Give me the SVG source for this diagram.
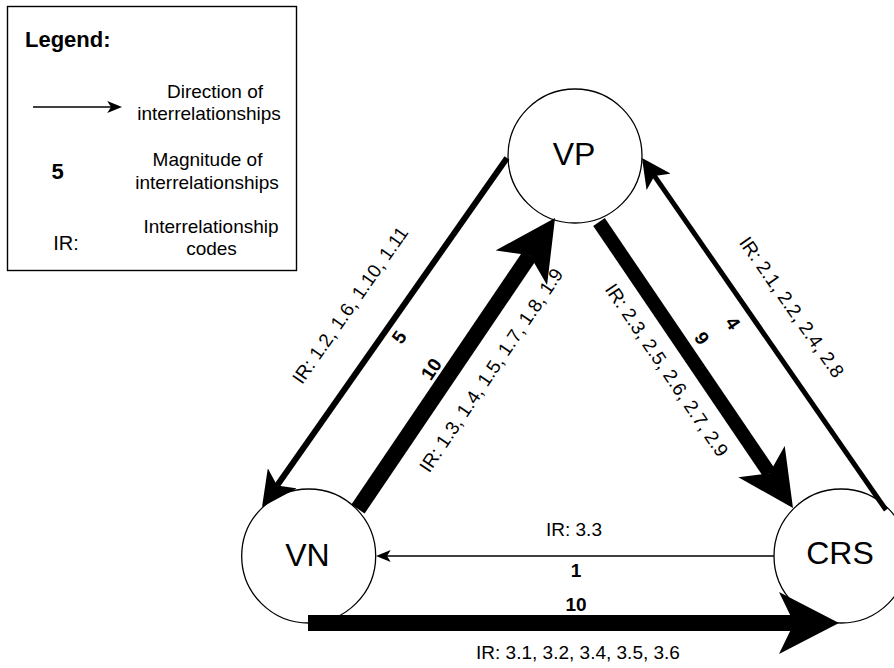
<svg xmlns="http://www.w3.org/2000/svg" width="894" height="668" viewBox="0 0 894 668">
  <style>
    .node { fill: #ffffff; stroke: #000000; stroke-width: 1.3; }
    .nlabel { font-family: "Liberation Sans", Arial, Helvetica, sans-serif; font-size: 32px; fill: #000; text-anchor: middle; }
    .txt { font-family: "Liberation Sans", Arial, Helvetica, sans-serif; font-size: 19px; fill: #000; text-anchor: middle; }
    .mag { font-family: "Liberation Sans", Arial, Helvetica, sans-serif; font-size: 19px; font-weight: bold; fill: #000; text-anchor: middle; }
    .big { font-size: 22px; }
    .edge { fill: none; stroke: #000000; stroke-linecap: butt; }
    .head { fill: #000000; stroke: none; }
  </style>
  <defs>
    <!-- classic arrowheads: tip at right, notch at 3/4 of length back from tip -->
    <marker id="head10" markerUnits="userSpaceOnUse" viewBox="0 0 60 62" markerWidth="60" markerHeight="62" refX="15" refY="31" orient="auto">
      <path class="head" d="M60,31 L0,0 L15,31 L0,62 Z"/>
    </marker>
    <marker id="head9" markerUnits="userSpaceOnUse" viewBox="0 0 56 56" markerWidth="56" markerHeight="56" refX="14" refY="28" orient="auto">
      <path class="head" d="M56,28 L0,0 L14,28 L0,56 Z"/>
    </marker>
    <marker id="head5" markerUnits="userSpaceOnUse" viewBox="0 0 35 35" markerWidth="35" markerHeight="35" refX="8.75" refY="17.5" orient="auto">
      <path class="head" d="M35,17.5 L0,0 L8.75,17.5 L0,35 Z"/>
    </marker>
    <marker id="head4" markerUnits="userSpaceOnUse" viewBox="0 0 29 29" markerWidth="29" markerHeight="29" refX="7.25" refY="14.5" orient="auto">
      <path class="head" d="M29,14.5 L0,0 L7.25,14.5 L0,29 Z"/>
    </marker>
    <marker id="head1" markerUnits="userSpaceOnUse" viewBox="0 0 15 12" markerWidth="15" markerHeight="12" refX="3.75" refY="6" orient="auto">
      <path class="head" d="M15,6 L0,0 L3.75,6 L0,12 Z"/>
    </marker>
  </defs>

  <rect width="894" height="668" fill="#ffffff"/>

  <!-- legend -->
  <g id="legend">
    <rect x="7.5" y="6.5" width="289" height="264" fill="#ffffff" stroke="#000000" stroke-width="1.4"/>
    <text x="25" y="47" class="mag big" style="text-anchor:start">Legend:</text>
    <path class="edge" d="M33,107 L111,107" stroke-width="1.3" marker-end="url(#head1)"/>
    <text x="215" y="98" class="txt">Direction of</text>
    <text x="209" y="119.5" class="txt">interrelationships</text>
    <text x="57.5" y="179" class="mag big">5</text>
    <text x="207.5" y="166" class="txt">Magnitude of</text>
    <text x="207" y="188.5" class="txt">interrelationships</text>
    <text x="66" y="250" class="txt" style="font-size:20px">IR:</text>
    <text x="211" y="233" class="txt">Interrelationship</text>
    <text x="211.5" y="255" class="txt">codes</text>
  </g>

  <!-- nodes -->
  <g id="node-vp">
    <circle class="node" cx="575" cy="156" r="67"/>
    <text class="nlabel" x="574" y="165">VP</text>
  </g>
  <g id="node-vn">
    <circle class="node" cx="308.7" cy="556" r="67"/>
    <text class="nlabel" x="307.5" y="566">VN</text>
  </g>
  <g id="node-crs">
    <circle class="node" cx="841" cy="556" r="67"/>
    <text class="nlabel" x="840" y="564">CRS</text>
  </g>

  <!-- edge labels: magnitudes (bold) and interrelationship codes -->
  <g id="edge-labels">
    <g transform="translate(350,305) rotate(-55)"><text class="txt" y="6.8">IR: 1.2, 1.6, 1.10, 1.11</text></g>
    <g transform="translate(399,337) rotate(-55)"><text class="mag" y="6.8">5</text></g>
    <g transform="translate(431,369) rotate(-56)"><text class="mag" y="6.8">10</text></g>
    <g transform="translate(491,370) rotate(-56)"><text class="txt" y="6.8">IR: 1.3, 1.4, 1.5, 1.7, 1.8, 1.9</text></g>
    <g transform="translate(667,370) rotate(56)"><text class="txt" y="6.8">IR: 2.3, 2.5, 2.6, 2.7, 2.9</text></g>
    <g transform="translate(702,338) rotate(56)"><text class="mag" y="6.8">9</text></g>
    <g transform="translate(733,323) rotate(55)"><text class="mag" y="6.8">4</text></g>
    <g transform="translate(792,307) rotate(55)"><text class="txt" y="6.8">IR: 2.1, 2.2, 2.4, 2.8</text></g>
    <text class="txt" x="574" y="536">IR: 3.3</text>
    <text class="mag" x="576" y="577">1</text>
    <text class="mag" x="576" y="611">10</text>
    <text class="txt" x="578" y="659">IR: 3.1, 3.2, 3.4, 3.5, 3.6</text>
  </g>

  <!-- connectors -->
  <g id="connectors">
    <!-- VP -> VN, magnitude 5 -->
    <path id="e-vp-vn" class="edge" d="M507,158 L277.1,485.5" stroke-width="6" marker-end="url(#head5)"/>
    <!-- VN -> VP, magnitude 10 -->
    <path id="e-vn-vp" class="edge" d="M358,509 L529.8,255.3" stroke-width="16" marker-end="url(#head10)"/>
    <!-- VP -> CRS, magnitude 9 -->
    <path id="e-vp-crs" class="edge" d="M599,222 L769.4,473.2" stroke-width="14" marker-end="url(#head9)"/>
    <!-- CRS -> VP, magnitude 4 -->
    <path id="e-crs-vp" class="edge" d="M886,510 L654.4,175.9" stroke-width="5" marker-end="url(#head4)"/>
    <!-- CRS -> VN, magnitude 1 -->
    <path id="e-crs-vn" class="edge" d="M774,556 L387,556" stroke-width="1.3" marker-end="url(#head1)"/>
    <!-- VN -> CRS, magnitude 10 -->
    <path id="e-vn-crs" class="edge" d="M308,623 L794,623" stroke-width="16" marker-end="url(#head10)"/>
  </g>
</svg>
